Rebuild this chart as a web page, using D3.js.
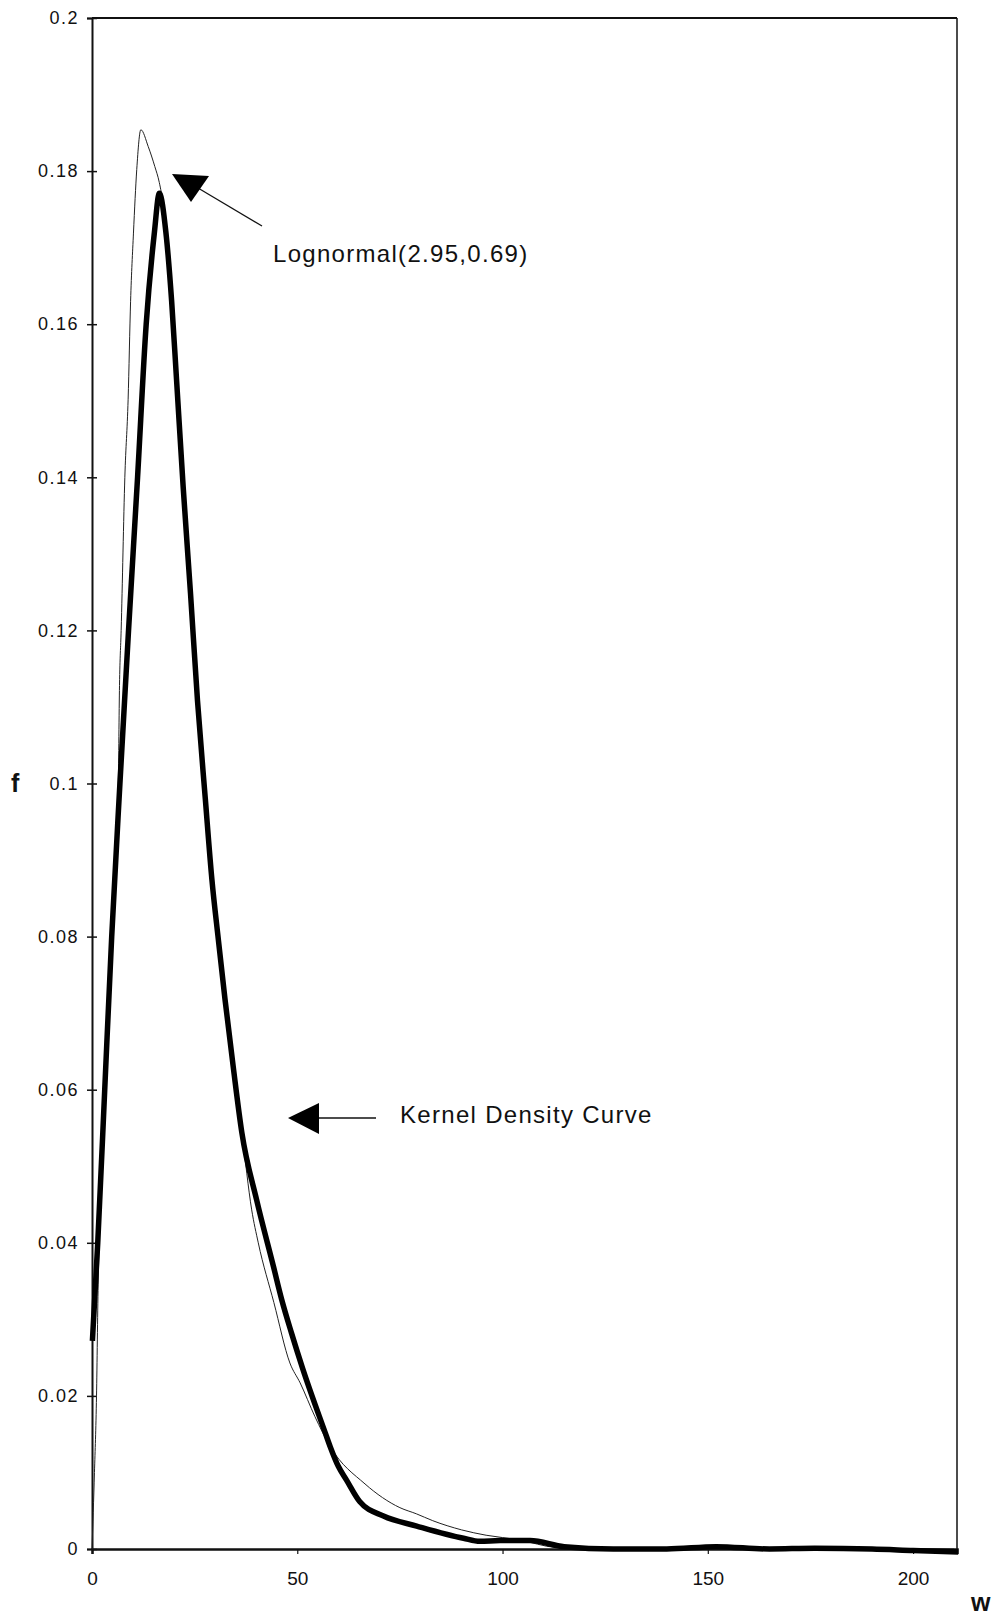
<!DOCTYPE html>
<html>
<head>
    <meta charset="utf-8">
    <title>Kernel density vs lognormal</title>
    <script src="https://d3js.org/d3.v7.min.js"></script>
    <style>
        body {
            margin: 0;
            background: white;
        }
        svg {
            display: block;
            font-family: 'Liberation Sans', Arial, sans-serif;
        }
    </style>
</head>
<body>
    <svg width="998" height="1618"></svg>

<script>

    // kernel density curve (thick)
    let kernelW = [0.1, 1.4, 3.1, 4.8, 6.8, 8.9, 11.1, 13.2, 15.2, 16.4,
        18.0, 19.4, 20.6, 22.2, 24.0, 25.7, 27.6, 29.2, 30.8, 32.4, 34.4, 36.5, 40.1, 44.2,
        46.2, 48.6, 51.3, 56.8, 58.0, 60.0, 62.0, 65.2, 71.0, 79.1, 90.5, 94.5, 99.4, 106.7,
        115.0, 127.0, 140.0, 152.0, 165.0, 176.0, 190.0, 200.0, 211.0]
    let kernelF = [0.0272, 0.040, 0.060, 0.080, 0.100, 0.120, 0.140, 0.160, 0.172, 0.1771,
        0.172, 0.163, 0.1527, 0.1388, 0.1248, 0.1108, 0.098, 0.0875, 0.0795, 0.0718, 0.063, 0.0544, 0.0456, 0.0369,
        0.0326, 0.0282, 0.0236, 0.0152, 0.0134, 0.0108, 0.009, 0.0062, 0.0043, 0.003, 0.0014, 0.001, 0.0011, 0.0011,
        0.0003, 0.0, 0.0, 0.0003, 0.0, 0.0001, 0.0, -0.0002, -0.0004]

    // Lognormal(2.95,0.69) fitted curve (thin)
    let lognormW = [0, 0.6, 1.1, 1.5, 3.9, 6.4, 6.7, 7.1, 8.0, 8.8, 9.4, 10.1, 10.9, 11.9,
        13.7, 15.3, 16.4, 18.2, 19.5, 20.7, 22.3, 24.1, 25.8, 27.7, 29.9, 32.4, 34.4, 36.5,
        38.9, 40.5, 44.3, 48.2, 50.7, 54.3, 58.0, 66.5, 75.0, 79.0, 83.0, 90.0, 96.0, 104.0,
        113.0, 125.0, 210.0]
    let lognormF = [0, 0.010, 0.020, 0.0345, 0.068, 0.100, 0.1128, 0.120, 0.140, 0.1502, 0.163, 0.1719, 0.1802, 0.1854,
        0.1832, 0.1806, 0.1785, 0.172, 0.163, 0.1527, 0.1388, 0.1248, 0.1108, 0.098, 0.0855, 0.0718, 0.063, 0.0544,
        0.0443, 0.040, 0.0322, 0.0243, 0.0217, 0.0173, 0.0134, 0.0085, 0.0054, 0.0046, 0.0037, 0.0025, 0.0018, 0.0012,
        0.0002, 0.0, 0.0]

    let yTicks = [0, 0.02, 0.04, 0.06, 0.08, 0.1, 0.12, 0.14, 0.16, 0.18, 0.2]
    let yTickLabels = ["0", "0.02", "0.04", "0.06", "0.08", "0.1", "0.12", "0.14", "0.16", "0.18", "0.2"]
    let xTicks = [0, 50, 100, 150, 200]
    let xTickLabels = ["0", "50", "100", "150", "200"]

    let plotLeft = 92, plotRight = 957, plotTop = 18, plotBottom = 1549

    let x = d3.scaleLinear().domain([0, 210.7]).range([plotLeft, plotRight])
    let y = d3.scaleLinear().domain([0, 0.2]).range([plotBottom, plotTop])

    let svg = d3.select("svg")

    svg.append("rect")
        .attr("width", 998)
        .attr("height", 1618)
        .attr("fill", "white")

    // frame: top and right edges
    svg.append("line")
        .attr("x1", plotLeft).attr("x2", plotRight)
        .attr("y1", plotTop).attr("y2", plotTop)
        .attr("stroke", "#111").attr("stroke-width", 2)
    svg.append("line")
        .attr("x1", plotRight).attr("x2", plotRight)
        .attr("y1", plotTop).attr("y2", plotBottom)
        .attr("stroke", "#111").attr("stroke-width", 1.5)

    // y axis, ticks crossing the line
    let yAxis = svg.append("g")
        .attr("transform", `translate(${plotLeft},0)`)
        .call(d3.axisLeft(y)
            .tickValues(yTicks)
            .tickFormat((d, i) => yTickLabels[i])
            .tickSize(5)
            .tickPadding(8))

    yAxis.select(".domain").attr("stroke", "#111").attr("stroke-width", 2)
    yAxis.selectAll(".tick line")
        .attr("x1", 5)
        .attr("x2", -5)
        .attr("stroke", "#111")
        .attr("stroke-width", 1.5)
    yAxis.selectAll(".tick text")
        .attr("font-size", 18)
        .attr("letter-spacing", "1.5px")
        .attr("fill", "#111")
        .attr("font-family", "'Liberation Sans', Arial, sans-serif")

    let xAxis = svg.append("g")
        .attr("transform", `translate(0,${plotBottom})`)
        .call(d3.axisBottom(x)
            .tickValues(xTicks)
            .tickFormat((d, i) => xTickLabels[i])
            .tickSize(5)
            .tickPadding(18))

    xAxis.select(".domain").attr("stroke", "#111").attr("stroke-width", 2.5)
    xAxis.selectAll(".tick line").attr("stroke", "#111").attr("stroke-width", 1.2)
    xAxis.selectAll(".tick text")
        .attr("font-size", 19)
        .attr("fill", "#111")
        .attr("font-family", "'Liberation Sans', Arial, sans-serif")

    // axis titles
    svg.append("text").text("f")
        .attr("x", 11).attr("y", 792)
        .attr("font-size", 25).attr("font-weight", "bold")
        .attr("fill", "#111")
    svg.append("text").text("w")
        .attr("x", 971).attr("y", 1611)
        .attr("font-size", 25).attr("font-weight", "bold")
        .attr("fill", "#111")

    let line = d3.line()
        .x(d => x(d[0]))
        .y(d => y(d[1]))
        .curve(d3.curveMonotoneX)

    svg.append("path")
        .attr("d", line(d3.zip(lognormW, lognormF)))
        .attr("fill", "none")
        .attr("stroke", "#222")
        .attr("stroke-width", 1)

    svg.append("path")
        .attr("d", line(d3.zip(kernelW, kernelF)))
        .attr("fill", "none")
        .attr("stroke", "black")
        .attr("stroke-width", 5.5)
        .attr("stroke-linejoin", "round")

    // annotations
    svg.append("line")
        .attr("x1", 198).attr("y1", 188)
        .attr("x2", 262).attr("y2", 226)
        .attr("stroke", "#111").attr("stroke-width", 1.3)
    svg.append("polygon")
        .attr("points", "172,174 209,176 191,202")
        .attr("fill", "black")
    svg.append("text").text("Lognormal(2.95,0.69)")
        .attr("x", 273).attr("y", 262)
        .attr("font-size", 24)
        .attr("letter-spacing", "1.3px")
        .attr("fill", "#111")

    svg.append("line")
        .attr("x1", 315).attr("y1", 1118)
        .attr("x2", 376).attr("y2", 1118)
        .attr("stroke", "#111").attr("stroke-width", 1.5)
    svg.append("polygon")
        .attr("points", "288,1118 319,1103 319,1134")
        .attr("fill", "black")
    svg.append("text").text("Kernel Density Curve")
        .attr("x", 400).attr("y", 1123)
        .attr("font-size", 24)
        .attr("letter-spacing", "1.3px")
        .attr("fill", "#111")

</script>
</body>
</html>
